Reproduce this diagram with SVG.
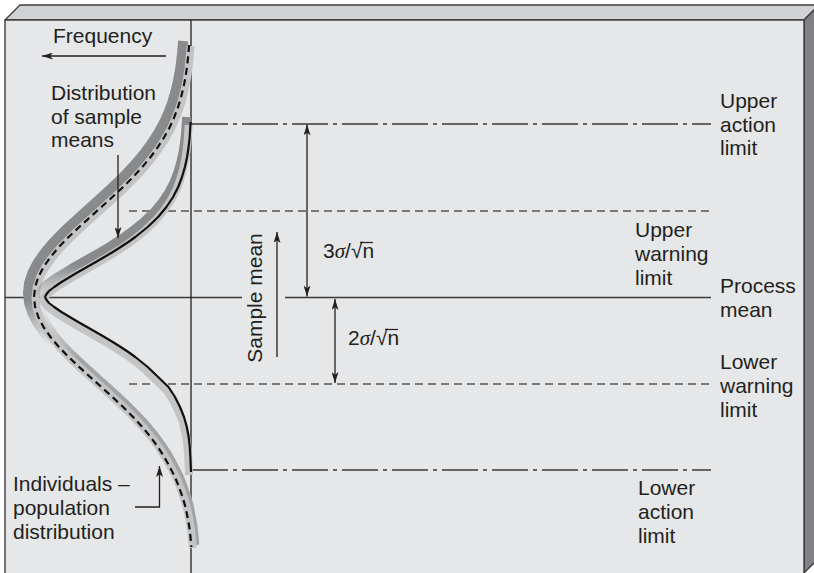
<svg xmlns="http://www.w3.org/2000/svg" xmlns:xlink="http://www.w3.org/1999/xlink" width="814" height="573" viewBox="0 0 814 573">
<style>
text{font-family:"Liberation Sans",Arial,Helvetica,sans-serif;font-size:21px;fill:#231f20}
.sig{font-family:"Liberation Serif","Times New Roman",serif;font-style:italic}
.edge{stroke:#3c3c3c;stroke-width:1.4;stroke-linejoin:round}
.lim{fill:none;stroke:#3a3a3a;stroke-width:1.4}
.action{stroke-dasharray:36 5 4 5}
.warn{stroke-dasharray:8 5;stroke:#555}
.arr{fill:none;stroke:#231f20;stroke-width:1.3;marker-end:url(#ah)}
.dbl{marker-start:url(#ah)}
.band{fill:none;stroke-linejoin:round;stroke-linecap:butt}
.ov{stroke:#231f20;stroke-width:1.2}
</style>
<defs>
<marker id="ah" viewBox="0 0 11 7" refX="11" refY="3.5" markerWidth="11" markerHeight="7" markerUnits="userSpaceOnUse" orient="auto-start-reverse">
<path d="M0,0 L11,3.5 L0,7 L2.8,3.5 Z" fill="#231f20"/>
</marker>
<linearGradient id="gDarkO" gradientUnits="userSpaceOnUse" x1="0" y1="0" x2="0" y2="573">
<stop offset="0" stop-color="#898a8c" stop-opacity="1"/>
<stop offset="0.53" stop-color="#898a8c" stop-opacity="1"/>
<stop offset="0.61" stop-color="#898a8c" stop-opacity="0"/>
</linearGradient>
<linearGradient id="gDarkI" gradientUnits="userSpaceOnUse" x1="0" y1="0" x2="0" y2="573">
<stop offset="0" stop-color="#898a8c" stop-opacity="1"/>
<stop offset="0.47" stop-color="#898a8c" stop-opacity="1"/>
<stop offset="0.535" stop-color="#898a8c" stop-opacity="0"/>
</linearGradient>
<linearGradient id="gShade" gradientUnits="userSpaceOnUse" x1="0" y1="0" x2="0" y2="573">
<stop offset="0.54" stop-color="#a2a3a5" stop-opacity="0"/>
<stop offset="0.63" stop-color="#a2a3a5" stop-opacity="1"/>
</linearGradient>
<path id="pop" d="M189.1,45 L188.1,57 L187.0,67 L185.5,77 L183.6,87 L181.1,97 L178.1,107 L174.3,117 L169.8,127 L164.3,137 L157.9,147 L150.6,157 L142.3,167 L133.1,177 L123.1,187 L112.4,197 L101.4,207 L90.2,217 L79.2,227 L68.6,237 L58.9,247 L50.5,257 L43.5,267 L38.3,277 L35.1,287 L34,297 L35.1,307 L38.3,317 L43.5,327 L50.5,337 L58.9,347 L68.6,357 L79.2,367 L90.2,377 L101.4,387 L112.4,397 L123.1,407 L133.1,417 L142.3,427 L150.6,437 L157.9,447 L164.3,457 L169.8,467 L175,477 L179,487 L182.5,497 L185.5,507 L187.5,517 L189.3,527 L190.5,537 L191.3,547"/>
<path id="smp" d="M190.6,122 L189.7,137 L188.6,147 L187.1,157 L184.9,167 L182.0,177 L178.2,187 L173.1,197 L166.4,207 L158.1,217 L147.7,227 L135.3,237 L128.3,242 L120.7,247 L112.8,252 L104.4,257 L95.8,262 L87.0,267 L78.2,272 L69.8,277 L61.5,282 L54.2,287 L49.0,291 L46.6,294 L45.4,296 L45.2,297 L45.4,298 L46.6,300 L49.0,303 L54.2,307 L61.5,312 L69.8,317 L78.2,322 L87.0,327 L95.8,332 L104.4,337 L112.8,342 L120.7,347 L128.3,352 L135.3,357 L147.7,367 L158.1,377 L168.5,387 L175,397 L180,407 L184,417 L186.8,427 L188.7,437 L189.8,447 L190.4,457 L191,472"/>
</defs>

<g id="box">
<polygon points="5,20 20,5 819,5 804,20" fill="#d1d2d4" class="edge"/>
<polygon points="804,20 819,5 819,558 804,573" fill="#808184" class="edge"/>
<rect x="5" y="20" width="799" height="560" fill="#e6e7e8" class="edge"/>
</g>

<g id="connectors">
<line class="lim action" x1="192" y1="124" x2="711" y2="124"/>
<line class="lim warn" x1="129" y1="211" x2="711" y2="211"/>
<line class="lim" x1="5" y1="297.5" x2="242" y2="297.5"/>
<line class="lim" x1="285" y1="297.5" x2="711" y2="297.5"/>
<line class="lim warn" x1="129" y1="384" x2="711" y2="384"/>
<line class="lim action" x1="192" y1="470" x2="711" y2="470"/>
<line id="axis" x1="191" y1="20" x2="191" y2="573" stroke="#231f20" stroke-width="1.3"/>
</g>

<g id="population-curve">
<use xlink:href="#pop" class="band" stroke="url(#gDarkO)" stroke-width="10" transform="translate(-6,-4)"/>
<use xlink:href="#pop" class="band" stroke="url(#gShade)" stroke-width="8" transform="translate(4,-2)"/>
<use xlink:href="#pop" class="band" stroke="#c3c4c6" stroke-width="8" transform="translate(1.5,1)"/>
<use xlink:href="#pop" class="band" stroke="#111" stroke-width="2.2" stroke-dasharray="7 4.5"/>
</g>

<g id="sample-curve">
<use xlink:href="#smp" class="band" stroke="url(#gDarkI)" stroke-width="9" transform="translate(-4,-5)"/>
<use xlink:href="#smp" class="band" stroke="#c3c4c6" stroke-width="8" transform="translate(-2,3)"/>
<use xlink:href="#smp" class="band" stroke="#111" stroke-width="2.2"/>
</g>

<g id="arrows">
<line class="arr" x1="166" y1="56" x2="42" y2="56"/>
<line class="arr" x1="118" y1="155" x2="118" y2="238"/>
<polyline class="arr" points="135,507 159.5,507 159.5,466"/>
<line class="arr" x1="277" y1="357" x2="277" y2="232"/>
<line class="arr dbl" x1="307" y1="296.5" x2="307" y2="124.5"/>
<line class="arr dbl" x1="335" y1="299" x2="335" y2="383"/>
</g>

<g id="label-frequency"><text x="53" y="43">Frequency</text></g>
<g id="label-sample-means">
<text x="51" y="100">Distribution</text>
<text x="51" y="123.5">of sample</text>
<text x="51" y="147">means</text>
</g>
<g id="label-individuals">
<text x="13" y="491">Individuals –</text>
<text x="13" y="515">population</text>
<text x="13" y="539">distribution</text>
</g>
<g id="label-sample-mean"><text transform="translate(262,298) rotate(-90)" text-anchor="middle">Sample mean</text></g>
<g id="label-3sigma">
<text x="323" y="258" font-size="20">3<tspan class="sig">σ</tspan>/√n</text>
<line class="ov" x1="360" y1="242.5" x2="373" y2="242.5"/>
</g>
<g id="label-2sigma">
<text x="348" y="345" font-size="20">2<tspan class="sig">σ</tspan>/√n</text>
<line class="ov" x1="385" y1="329.5" x2="398" y2="329.5"/>
</g>
<g id="label-upper-action">
<text x="720" y="107.5">Upper</text>
<text x="720" y="131.5">action</text>
<text x="720" y="155">limit</text>
</g>
<g id="label-upper-warning">
<text x="635" y="237">Upper</text>
<text x="635" y="261">warning</text>
<text x="635" y="285">limit</text>
</g>
<g id="label-process-mean">
<text x="720" y="293">Process</text>
<text x="720" y="317">mean</text>
</g>
<g id="label-lower-warning">
<text x="720" y="369">Lower</text>
<text x="720" y="393">warning</text>
<text x="720" y="416.5">limit</text>
</g>
<g id="label-lower-action">
<text x="638" y="495">Lower</text>
<text x="638" y="519">action</text>
<text x="638" y="543">limit</text>
</g>
</svg>
